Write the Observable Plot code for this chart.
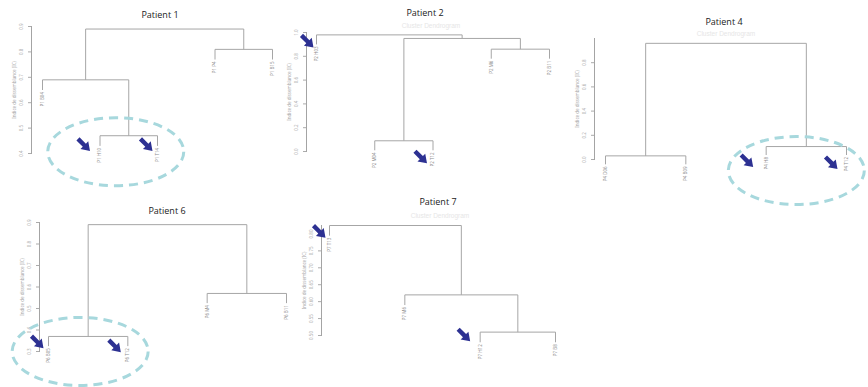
<!DOCTYPE html>
<html><head><meta charset="utf-8">
<script src="https://cdn.jsdelivr.net/npm/d3@7"></script>
<script src="https://cdn.jsdelivr.net/npm/@observablehq/plot@0.6"></script>
<style>
body{margin:0;background:#fff;}
#fig{position:relative;width:868px;height:387px;overflow:hidden;background:#fff;}
#fig svg{position:absolute;left:0;top:0;}
.ttl{position:absolute;font:400 9px "Open Sans",sans-serif;color:#222;transform:translate(-50%,-50%);white-space:nowrap;}
.sub{position:absolute;font:6.5px "Liberation Sans",sans-serif;color:#e6e6e6;transform:translate(-50%,-50%);white-space:nowrap;}
</style></head><body><div id="fig"></div>
<script>
// ---------- data ----------
const patientNames = ["Patient 1", "Patient 2", "Patient 4", "Patient 6", "Patient 7"];
const subtitle = "Cluster Dendrogram";
const yLabel = "Indice de dissemblance (IC)";

// leaves in display order; merges: negative = leaf (1-based), positive = earlier merge
const p1Leaves = ["P1 B04", "P1 H10", "P1 T14", "P1 P4", "P1 B15"];
const p1Merges = [[-2, -3], [-1, 1], [-4, -5], [2, 3]];
const p1Heights = [0.47, 0.69, 0.81, 0.89];
const p1Ticks = [0.4, 0.5, 0.6, 0.7, 0.8, 0.9];

const p2Leaves = ["P2 H03", "P2 M04", "P2 T12", "P2 M6", "P2 B11"];
const p2Merges = [[-2, -3], [-4, -5], [1, 2], [-1, 3]];
const p2Heights = [0.09, 0.86, 0.95, 0.98];
const p2Ticks = [0.0, 0.2, 0.4, 0.6, 0.8, 1.0];

const p4Leaves = ["P4 D06", "P4 B09", "P4 H8", "P4 T12"];
const p4Merges = [[-1, -2], [-3, -4], [1, 2]];
const p4Heights = [0.03, 0.107, 0.96];
const p4Ticks = [0.0, 0.2, 0.4, 0.6, 0.8];

const p6Leaves = ["P6 B05", "P6 T12", "P6 M4", "P6 B11"];
const p6Merges = [[-1, -2], [-3, -4], [1, 2]];
const p6Heights = [0.37, 0.57, 0.89];
const p6Ticks = [0.3, 0.4, 0.5, 0.6, 0.7, 0.8, 0.9];

const p7Leaves = ["P7 T13", "P7 M6", "P7 H12", "P7 B8"];
const p7Merges = [[-3, -4], [-2, 1], [-1, 2]];
const p7Heights = [0.51, 0.62, 0.825];
const p7Ticks = [0.50, 0.55, 0.60, 0.65, 0.70, 0.75, 0.80];

// highlighted leaves (arrows) and circled clusters (merge index, 0 = none)
const arrowLeaves = [[2, 3], [1, 3], [3, 4], [1, 2], [1, 3]];
const circledMerge = [1, 0, 2, 1, 0];

// ---------- layout (pixels) ----------
const layout = [
  {axisX: 31, yTop: 26, yBottom: 153, dom: [0.4, 0.9], xl: 42, xr: 272, tx: 160, ty: 14, sub: false, hang: 0.04, fmt: ".1f",
   arrowOff: [[-10, 5], [-5, 5]], ellOff: [-13, 16]},
  {axisX: 306, yTop: 32, yBottom: 151, dom: [0, 1], xl: 316, xr: 549, tx: 425, ty: 12, sx: 431, sy: 25, sub: true, hang: 0.08, fmt: ".1f",
   arrowOff: [[-3, 3], [-6, 13]]},
  {axisX: 594, yTop: 38, yBottom: 159, dom: [0, 1], xl: 605, xr: 846, tx: 724, ty: 21, sx: 726, sy: 33, sub: true, hang: 0.07, fmt: ".1f",
   arrowOff: [[-13, 12], [-9, 14]], ellOff: [-10, 24]},
  {axisX: 39, yTop: 222, yBottom: 351, dom: [0.3, 0.9], xl: 48, xr: 286, tx: 167, ty: 210, sub: false, hang: 0.045, fmt: ".1f",
   arrowOff: [[-5, 2], [-7, 6]], ellOff: [-8, 15]},
  {axisX: 321, yTop: 225, yBottom: 335, dom: [0.5, 0.825], xl: 329, xr: 555, tx: 438, ty: 201, sx: 440, sy: 215, sub: true, hang: 0.03, fmt: ".2f",
   arrowOff: [[-4, 2], [-10, -1]]}
];

const data = [
  [p1Leaves, p1Merges, p1Heights, p1Ticks],
  [p2Leaves, p2Merges, p2Heights, p2Ticks],
  [p4Leaves, p4Merges, p4Heights, p4Ticks],
  [p6Leaves, p6Merges, p6Heights, p6Ticks],
  [p7Leaves, p7Merges, p7Heights, p7Ticks]
];

// ---------- custom symbols ----------
const S = Math.SQRT1_2;
const rot = (u, v) => [(u - v) * S, (u + v) * S];
const arrowSymbol = {
  draw(ctx) {
    const pts = [[0, 0], [-8, -5.5], [-8, -2.2], [-17, -2.2], [-17, 2.2], [-8, 2.2], [-8, 5.5]].map(([u, v]) => rot(u, v));
    ctx.moveTo(...pts[0]);
    for (let i = 1; i < pts.length; i++) ctx.lineTo(...pts[i]);
    ctx.closePath();
  }
};
const ellipseSymbol = {
  draw(ctx) {
    const rx = 68, ry = 34, k = 0.5523;
    ctx.moveTo(rx, 0);
    ctx.bezierCurveTo(rx, k * ry, k * rx, ry, 0, ry);
    ctx.bezierCurveTo(-k * rx, ry, -rx, k * ry, -rx, 0);
    ctx.bezierCurveTo(-rx, -k * ry, -k * rx, -ry, 0, -ry);
    ctx.bezierCurveTo(k * rx, -ry, rx, -k * ry, rx, 0);
    ctx.closePath();
  }
};

function dendro(leaves, merges, heights, hang) {
  const mx = [], segs = [], leafEnd = [];
  merges.forEach(([a, b], i) => {
    const h = heights[i];
    const xa = a < 0 ? -a : mx[a - 1], xb = b < 0 ? -b : mx[b - 1];
    const ya = a < 0 ? h - hang : heights[a - 1];
    const yb = b < 0 ? h - hang : heights[b - 1];
    if (a < 0) leafEnd[-a] = h - hang;
    if (b < 0) leafEnd[-b] = h - hang;
    segs.push({x1: xa, y1: ya, x2: xa, y2: h}, {x1: xb, y1: yb, x2: xb, y2: h}, {x1: xa, y1: h, x2: xb, y2: h});
    mx.push((xa + xb) / 2);
  });
  const labels = leaves.map((t, i) => ({x: i + 1, y: leafEnd[i + 1], text: t}));
  const mergePts = heights.map((h, i) => ({x: mx[i], y: h}));
  return {segs, labels, mergePts};
}

const fig = document.getElementById("fig");
const W = 868, H = 387;
data.forEach(([leaves, merges, heights, ticks], p) => {
  const L = layout[p];
  const {segs, labels, mergePts} = dendro(leaves, merges, heights, L.hang);
  const arrowMarks = arrowLeaves[p].map((i, j) =>
    Plot.dot([labels[i - 1]], {x: "x", y: "y", symbol: arrowSymbol, dx: L.arrowOff[j][0], dy: L.arrowOff[j][1], fill: "#2d3192", stroke: "none"}));
  const circ = circledMerge[p] ? [mergePts[circledMerge[p] - 1]] : [];
  const chart = Plot.plot({
    width: W, height: H,
    marginLeft: L.axisX, marginTop: L.yTop, marginBottom: H - L.yBottom, marginRight: W - L.xr - 4,
    x: {domain: [1, leaves.length], range: [L.xl, L.xr], axis: null},
    y: {domain: L.dom, axis: null},
    style: {background: "transparent"},
    marks: [
      Plot.frame({anchor: "left", stroke: "#a4a4a4"}),
      Plot.axisY({ticks, tickSize: 3, tickRotate: -90, fontSize: 4.5, color: "#ababab", tickFormat: d3.format(L.fmt),
        label: yLabel, labelAnchor: "center", labelArrow: "none", labelOffset: 19}),
      Plot.link(segs, {x1: "x1", y1: "y1", x2: "x2", y2: "y2", stroke: "#a6a6a6", strokeWidth: 1}),
      Plot.text(labels, {x: "x", y: "y", text: "text", rotate: -90, textAnchor: "end", dy: 2, fontSize: 4.5, fill: "#8e8e8e"}),
      circ.length ? Plot.dot(circ, {x: "x", y: "y", symbol: ellipseSymbol, dx: L.ellOff[0], dy: L.ellOff[1], fill: "none", stroke: "#a7d8dd", strokeWidth: 3, strokeDasharray: "9,6"}) : null,
      ...arrowMarks
    ]
  });
  fig.appendChild(chart);
  const t = document.createElement("div");
  t.className = "ttl"; t.textContent = patientNames[p];
  t.style.left = L.tx + "px"; t.style.top = L.ty + "px";
  fig.appendChild(t);
  if (L.sub) {
    const s = document.createElement("div");
    s.className = "sub"; s.textContent = subtitle;
    s.style.left = L.sx + "px"; s.style.top = L.sy + "px";
    fig.appendChild(s);
  }
});
</script></body></html>
